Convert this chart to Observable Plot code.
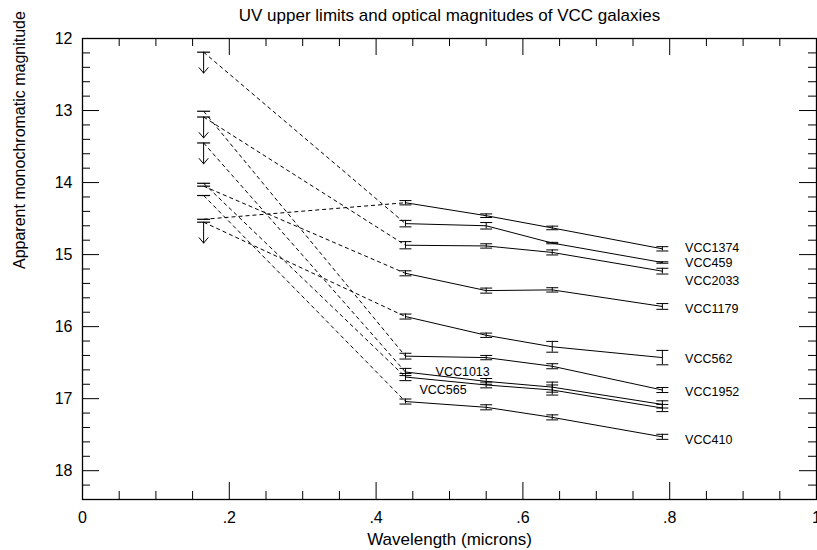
<!DOCTYPE html>
<html><head><meta charset="utf-8">
<script src="https://cdn.jsdelivr.net/npm/d3@7"></script>
<script src="https://cdn.jsdelivr.net/npm/@observablehq/plot@0.6"></script>
<style>html,body{margin:0;padding:0;background:#fff;} svg{display:block;}</style>
</head><body><div id="chart"></div>
<script>
// ---- data ----
const galaxies   = ["VCC1374","VCC459","VCC2033","VCC1179","VCC562","VCC1952","VCC1013","VCC565","VCC410"];
const bandNames  = ["UV","B","V","R","I"];
const wavelengths = [0.165, 0.44, 0.55, 0.64, 0.79];
const uvLimit  = [14.51, 12.19, 13.09, 14.05, 14.55, 13.01, 13.45, 14.01, 14.18];
const uvArrow  = [false, true, true, false, true, false, true, false, false];
const magB = [14.28, 14.57, 14.87, 15.26, 15.86, 16.41, 16.63, 16.70, 17.04];
const magV = [14.46, 14.60, 14.88, 15.50, 16.12, 16.43, 16.76, 16.81, 17.12];
const magR = [14.63, 14.84, 14.97, 15.49, 16.28, 16.55, 16.84, 16.88, 17.26];
const magI = [14.92, 15.11, 15.23, 15.72, 16.43, 16.88, 17.08, 17.13, 17.53];
const errB = [0.03, 0.045, 0.05, 0.035, 0.035, 0.04, 0.05, 0.05, 0.035];
const errV = [0.025, 0.045, 0.03, 0.035, 0.03, 0.03, 0.04, 0.04, 0.035];
const errR = [0.025, 0.01, 0.035, 0.03, 0.075, 0.035, 0.07, 0.07, 0.035];
const errI = [0.03, 0.01, 0.04, 0.04, 0.10, 0.035, 0.05, 0.05, 0.035];
const labelWave = [0.821, 0.821, 0.821, 0.821, 0.821, 0.821, 0.481, 0.459, 0.821];
const labelMag  = [14.91, 15.12, 15.36, 15.76, 16.45, 16.91, 16.63, 16.875, 17.58];
const xTickValues = [0, 0.2, 0.4, 0.6, 0.8, 1];
const xTickLabels = ["0", ".2", ".4", ".6", ".8", "1"];
const yTickValues = [12, 13, 14, 15, 16, 17, 18];
const titleText = "UV upper limits and optical magnitudes of VCC galaxies";
const xLabel = "Wavelength (microns)";
const yLabel = "Apparent monochromatic magnitude";

// ---- derived tables ----
const optMags = [magB, magV, magR, magI];
const optErrs = [errB, errV, errR, errI];
const optical = galaxies.flatMap((g, i) => optMags.map((m, j) => ({
  galaxy: g, w: wavelengths[j + 1], mag: m[i], err: optErrs[j][i]
})));
const caps = optical.flatMap(d => [{w: d.w, mag: d.mag - d.err}, {w: d.w, mag: d.mag + d.err}]);
const uv = galaxies.map((g, i) => ({galaxy: g, w: wavelengths[0], mag: uvLimit[i], arrow: uvArrow[i], bw: wavelengths[1], bmag: magB[i]}));
const labels = galaxies.map((g, i) => ({text: g, w: labelWave[i], mag: labelMag[i]}));

const width = 817, height = 550;
const mL = 82, mR = 1, mT = 38, mB = 51;
const innerW = width - mL - mR, innerH = height - mT - mB;
const majorLen = 17, minorLen = 8, arrowLen = 0.29;
const xMinor = d3.range(0, 1.0001, 0.05).filter(v => Math.abs(v * 5 - Math.round(v * 5)) > 1e-6);
const yMinor = d3.range(12, 18.4001, 0.2).filter(v => Math.abs(v - Math.round(v)) > 1e-6);

const hbar = {draw(ctx, size) { const r = Math.sqrt(size / Math.PI); ctx.moveTo(-r, 0); ctx.lineTo(r, 0); }};

const chart = Plot.plot({
  width, height,
  marginLeft: mL, marginRight: mR, marginTop: mT, marginBottom: mB,
  style: {fontFamily: "'Liberation Sans', Arial, sans-serif", fontSize: "16px", color: "black", background: "white", overflow: "visible"},
  x: {domain: [0, 1]},
  y: {domain: [12, 18.4], reverse: true},
  marks: [
    // ticks
    Plot.tickX(xTickValues, {x: d => d, insetTop: innerH - majorLen}),
    Plot.tickX(xTickValues, {x: d => d, insetBottom: innerH - majorLen}),
    Plot.tickX(xMinor, {x: d => d, insetTop: innerH - minorLen}),
    Plot.tickX(xMinor, {x: d => d, insetBottom: innerH - minorLen}),
    Plot.tickY(yTickValues, {y: d => d, insetRight: innerW - majorLen}),
    Plot.tickY(yTickValues, {y: d => d, insetLeft: innerW - majorLen}),
    Plot.tickY(yMinor, {y: d => d, insetRight: innerW - minorLen}),
    Plot.tickY(yMinor, {y: d => d, insetLeft: innerW - minorLen}),
    Plot.frame({stroke: "black", strokeWidth: 1.3}),
    Plot.axisX({ticks: xTickValues, tickSize: 0, tickPadding: 12, fontSize: 16,
      tickFormat: (d, i) => xTickLabels[xTickValues.indexOf(d)], label: null}),
    Plot.axisY({ticks: yTickValues, tickSize: 0, tickPadding: 10, fontSize: 16,
      tickFormat: d => String(d), label: null}),
    // dashed UV -> B
    Plot.link(uv, {x1: "w", y1: "mag", x2: "bw", y2: "bmag", stroke: "black", strokeWidth: 1, strokeDasharray: "4,3"}),
    // optical lines
    Plot.line(optical, {x: "w", y: "mag", z: "galaxy", stroke: "black", strokeWidth: 1}),
    // error bars
    Plot.ruleX(optical, {x: "w", y1: d => d.mag - d.err, y2: d => d.mag + d.err, stroke: "black", strokeWidth: 1}),
    Plot.dot(caps, {x: "w", y: "mag", symbol: hbar, r: 6, stroke: "black", fill: "none", strokeWidth: 1}),
    // UV upper limits
    Plot.dot(uv, {x: "w", y: "mag", symbol: hbar, r: 6.5, stroke: "black", fill: "none", strokeWidth: 1.2}),
    Plot.arrow(uv.filter(d => d.arrow), {x1: "w", x2: "w", y1: "mag", y2: d => d.mag + arrowLen,
      headLength: 12, headAngle: 80, stroke: "black", strokeWidth: 1}),
    // labels
    Plot.text(labels, {x: "w", y: "mag", text: "text", textAnchor: "start", fontSize: 12.5, fill: "black"}),
    Plot.text([titleText], {frameAnchor: "top", dy: -23, lineAnchor: "middle", fontSize: 17, fill: "black"}),
    Plot.text([xLabel], {frameAnchor: "bottom", dy: 40, lineAnchor: "middle", fontSize: 17, fill: "black"}),
    Plot.text([yLabel], {frameAnchor: "left", dx: -63, rotate: -90, lineAnchor: "middle", fontSize: 16, fill: "black"})
  ]
});
document.getElementById("chart").appendChild(chart);
</script>
</body></html>
